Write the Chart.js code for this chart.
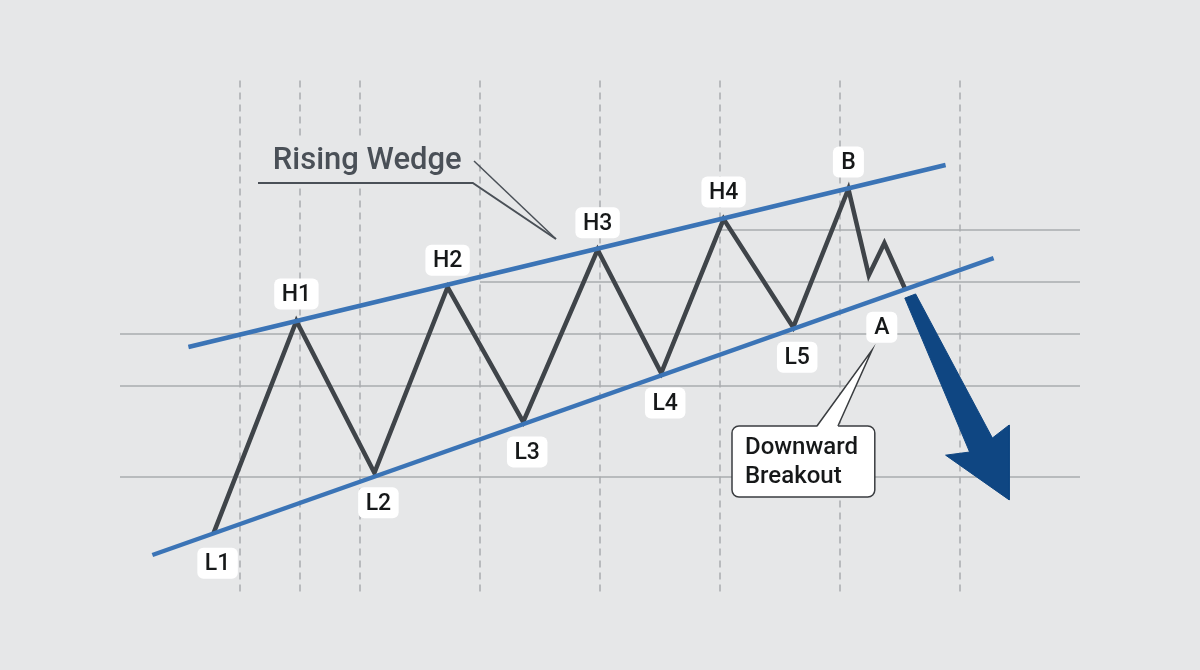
<!DOCTYPE html>
<html>
<head>
<meta charset="utf-8">
<title>Rising Wedge</title>
<script src="https://cdn.jsdelivr.net/npm/chart.js@4.4.1/dist/chart.umd.min.js"></script>
<style>
  html, body { margin: 0; padding: 0; background: #e6e7e8; }
  #wrap { width: 1200px; height: 670px; }
</style>
</head>
<body>
<div id="wrap"><canvas id="wedgeChart" width="1200" height="670"></canvas></div>
<script>
  // Price path pivots (time in bar units, price in arbitrary units)
  const pivotLabels = ['L1', 'H1', 'L2', 'H2', 'L3', 'H3', 'L4', 'H4', 'L5', 'B', '', '', 'A'];
  const pivotTimes = [1.78, 2.47, 3.12, 3.73, 4.36, 4.98, 5.51, 6.03, 6.61, 7.07, 7.24, 7.37, 7.54];
  const pivotPrices = [1.17, 5.25, 2.33, 5.9, 3.31, 6.62, 4.25, 7.21, 5.13, 7.79, 6.13, 6.75, 5.88];

  // Wedge trendlines
  const upperTimes = [1.57, 7.88];
  const upperPrices = [4.75, 8.25];
  const lowerTimes = [1.27, 8.28];
  const lowerPrices = [0.75, 6.46];

  // Breakout arrow outline
  const arrowTimes = [7.54, 7.63, 8.27, 8.41, 8.41, 7.88, 8.08, 7.54];
  const arrowPrices = [5.69, 5.77, 3.0, 3.25, 1.81, 2.67, 2.73, 5.69];

  // Grid: vertical dashed times, horizontal price levels and where they start
  const timeTicks = [2, 2.5, 3, 4, 5, 6, 7, 8];
  const priceLevels = [7, 6, 5, 4, 2.25];
  const levelStarts = [6, 4, 1, 1, 1];

  const gridColor = '#a9acaf';
  const bgColor = '#e6e7e8';

  const toPoints = (xs, ys) => xs.map((x, i) => ({ x: x, y: ys[i] }));

  const datasets = [];

  // Vertical dashed grid lines
  timeTicks.forEach(t => {
    datasets.push({
      data: [{ x: t, y: 0.05 }, { x: t, y: 9.95 }],
      borderColor: gridColor, borderWidth: 1.5, borderDash: [7, 5],
      pointRadius: 0, order: 10
    });
  });

  // Horizontal price levels
  priceLevels.forEach((p, i) => {
    datasets.push({
      data: [{ x: levelStarts[i], y: p }, { x: 9, y: p }],
      borderColor: gridColor, borderWidth: 1.5,
      pointRadius: 0, order: 10
    });
  });

  // Price zigzag
  datasets.push({
    data: toPoints(pivotTimes, pivotPrices),
    borderColor: '#3f4449', borderWidth: 4.5, borderJoinStyle: 'miter',
    pointRadius: 0, tension: 0, order: 3
  });

  // Trendlines
  [[upperTimes, upperPrices], [lowerTimes, lowerPrices]].forEach(([ts, ps]) => {
    datasets.push({
      data: toPoints(ts, ps),
      borderColor: '#3b74b6', borderWidth: 4.5,
      pointRadius: 0, order: 2
    });
  });

  // Downward arrow
  datasets.push({
    data: toPoints(arrowTimes, arrowPrices),
    borderColor: '#0f4682', borderWidth: 1,
    backgroundColor: '#0f4682', fill: 'shape',
    pointRadius: 0, tension: 0, order: 1
  });

  function roundBox(ctx, x, y, w, h, r) {
    ctx.beginPath();
    ctx.moveTo(x + r, y);
    ctx.lineTo(x + w - r, y);
    ctx.arcTo(x + w, y, x + w, y + r, r);
    ctx.lineTo(x + w, y + h - r);
    ctx.arcTo(x + w, y + h, x + w - r, y + h, r);
    ctx.lineTo(x + r, y + h);
    ctx.arcTo(x, y + h, x, y + h - r, r);
    ctx.lineTo(x, y + r);
    ctx.arcTo(x, y, x + r, y, r);
    ctx.closePath();
  }

  // label offsets in pixels from the pivot
  function labelOffset(name) {
    if (name === 'A') return [-23, 39];
    if (name[0] === 'L') return [4, 30];
    return [0, -27];
  }

  const annotations = {
    id: 'annotations',
    beforeDraw(chart) {
      const ctx = chart.ctx;
      ctx.save();
      ctx.fillStyle = bgColor;
      ctx.fillRect(0, 0, chart.width, chart.height);
      ctx.restore();
    },
    afterDatasetsDraw(chart) {
      const ctx = chart.ctx;
      const X = v => chart.scales.x.getPixelForValue(v);
      const Y = v => chart.scales.y.getPixelForValue(v);
      ctx.save();

      // Pivot labels
      ctx.font = '500 23px Roboto, "Noto Sans", sans-serif';
      ctx.textAlign = 'center';
      ctx.textBaseline = 'middle';
      pivotLabels.forEach((name, i) => {
        if (!name) return;
        const [dx, dy] = labelOffset(name);
        const cx = X(pivotTimes[i]) + dx;
        const cy = Y(pivotPrices[i]) + dy;
        const w = Math.max(31, ctx.measureText(name).width + 15);
        const h = 31;
        ctx.fillStyle = '#ffffff';
        roundBox(ctx, cx - w / 2, cy - h / 2, w, h, 6);
        ctx.fill();
        ctx.fillStyle = '#161819';
        ctx.fillText(name, cx, cy + 1);
      });

      // "Rising Wedge" title callout
      const tx0 = X(2.15), tx1 = X(3.94), tip = [X(4.633), Y(6.827)];
      const underY = Y(7.904);
      ctx.fillStyle = bgColor;
      ctx.fillRect(tx0, Y(8.75), tx1 - tx0 - 3, underY - Y(8.75));
      ctx.fillStyle = '#4a5057';
      ctx.font = '500 31px Roboto, "Noto Sans", sans-serif';
      ctx.textBaseline = 'alphabetic';
      ctx.fillText('Rising Wedge', X(3.06), Y(8.17));
      ctx.strokeStyle = '#4a5057';
      ctx.lineWidth = 2;
      ctx.beginPath();
      ctx.moveTo(tx0, underY);
      ctx.lineTo(tx1, underY);
      ctx.lineTo(tip[0], tip[1]);
      ctx.stroke();
      ctx.lineWidth = 1.5;
      ctx.beginPath();
      ctx.moveTo(X(3.95), Y(8.327));
      ctx.lineTo(tip[0], tip[1]);
      ctx.stroke();

      // "Downward Breakout" callout
      const bx = X(6.10), by = Y(3.231), bw = X(7.29) - bx, bh = Y(1.865) - by;
      const p0 = X(6.808), p1 = X(6.983), pt = [X(7.267), Y(4.692)];
      ctx.fillStyle = '#ffffff';
      ctx.strokeStyle = '#3a3d40';
      ctx.lineWidth = 1.5;
      roundBox(ctx, bx, by, bw, bh, 7);
      ctx.fill();
      ctx.stroke();
      ctx.beginPath();
      ctx.moveTo(p0, by + 1);
      ctx.lineTo(pt[0], pt[1]);
      ctx.lineTo(p1, by + 1);
      ctx.closePath();
      ctx.fill();
      ctx.beginPath();
      ctx.moveTo(p0, by);
      ctx.lineTo(pt[0], pt[1]);
      ctx.lineTo(p1, by);
      ctx.stroke();
      ctx.fillStyle = '#161819';
      ctx.font = '500 24px Roboto, "Noto Sans", sans-serif';
      ctx.textAlign = 'left';
      ctx.fillText('Downward', X(6.208), Y(2.692));
      ctx.fillText('Breakout', X(6.208), Y(2.135));

      ctx.restore();
    }
  };

  const wedgeChart = new Chart(document.getElementById('wedgeChart').getContext('2d'), {
    type: 'line',
    data: { datasets: datasets },
    options: {
      responsive: false,
      animation: false,
      layout: { padding: 0 },
      scales: {
        x: { type: 'linear', min: 0, max: 10, display: false },
        y: { type: 'linear', min: -76 / 52, max: 594 / 52, display: false }
      },
      plugins: {
        legend: { display: false },
        tooltip: { enabled: false }
      }
    },
    plugins: [annotations]
  });
</script>
</body>
</html>
